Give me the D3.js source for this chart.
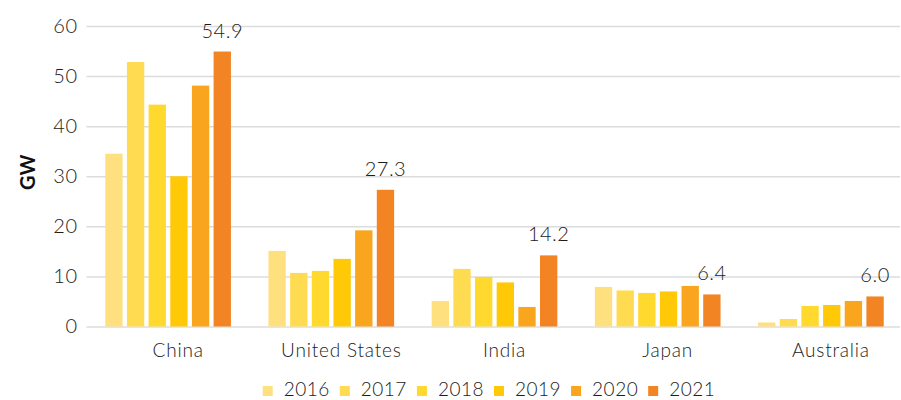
<!DOCTYPE html>
<html>
<head>
<meta charset="utf-8">
<script src="https://cdn.jsdelivr.net/npm/d3@7"></script>
<style>
  html, body { margin: 0; padding: 0; background: #fff; }
  svg { display: block; font-family: "Lato", "Open Sans", sans-serif; }
</style>
</head>
<body>
<svg id="chart" width="901" height="400"></svg>
<script>
const countries = ["China", "United States", "India", "Japan", "Australia"];
const years = ["2016", "2017", "2018", "2019", "2020", "2021"];
const v2016 = [34.5, 15.1, 5.1, 7.9, 0.8];
const v2017 = [52.8, 10.7, 11.5, 7.2, 1.5];
const v2018 = [44.3, 11.1, 9.9, 6.7, 4.1];
const v2019 = [30.0, 13.5, 8.8, 7.0, 4.3];
const v2020 = [48.1, 19.2, 3.9, 8.1, 5.1];
const v2021 = [54.9, 27.3, 14.2, 6.4, 6.0];
const yTicks = [0, 10, 20, 30, 40, 50, 60];
const colors = ["#FFE07F", "#FFDB52", "#FFD92E", "#FFC907", "#F9A51E", "#F28424"];
const labelledYear = "2021";

const series = [v2016, v2017, v2018, v2019, v2020, v2021];
const data = countries.map((c, i) => ({
  country: c,
  values: years.map((y, j) => ({ year: y, value: series[j][i] }))
}));

const svg = d3.select("#chart");
const mLeft = 86.5, mRight = 902.5, mTop = 26, mBottom = 326.5;
const textColor = "#1c1c1c";
const lightWeight = 300;

const x0 = d3.scaleBand().domain(countries).range([mLeft, mRight])
  .paddingInner(0.23).paddingOuter(0.115);
const x1 = d3.scaleBand().domain(years).range([0, x0.bandwidth()])
  .paddingInner(0.2).paddingOuter(0);
const y = d3.scaleLinear().domain([0, 60]).range([mBottom, mTop]);
const color = d3.scaleOrdinal().domain(years).range(colors);

// gridlines + y tick labels
const yAxis = svg.append("g")
  .attr("transform", `translate(${mLeft},0)`)
  .call(d3.axisLeft(y).tickValues(yTicks).tickSize(-(900 - mLeft)).tickPadding(9));
yAxis.select(".domain").remove();
yAxis.selectAll(".tick line").attr("stroke", "#dcdcdc").attr("stroke-width", 1.5);
yAxis.selectAll(".tick text")
  .attr("fill", textColor).style("font-size", "20px").style("font-weight", lightWeight)
  .style("letter-spacing", "0.5px").style("font-family", "Lato, sans-serif");

// y axis title
svg.append("text")
  .attr("transform", `translate(35,${(mTop + mBottom) / 2 - 4}) rotate(-90)`)
  .attr("text-anchor", "middle")
  .attr("fill", "#111")
  .style("font-size", "20px").style("font-weight", "bold")
  .text("GW");

// bars
const groups = svg.append("g").selectAll("g").data(data).join("g")
  .attr("transform", d => `translate(${x0(d.country)},0)`);
groups.selectAll("rect").data(d => d.values).join("rect")
  .attr("x", d => x1(d.year))
  .attr("width", x1.bandwidth())
  .attr("y", d => y(d.value))
  .attr("height", d => y(0) - y(d.value))
  .attr("fill", d => color(d.year));

// value labels for 2021
groups.selectAll("text.val").data(d => d.values.filter(v => v.year === labelledYear)).join("text")
  .attr("class", "val")
  .attr("x", d => x1(d.year) + x1.bandwidth() / 2)
  .attr("y", d => y(d.value) - 14)
  .attr("text-anchor", "middle")
  .attr("fill", textColor)
  .style("font-size", "20px").style("font-weight", lightWeight)
  .style("letter-spacing", "0.5px")
  .text(d => d.value.toFixed(1));

// category axis
const xAxis = svg.append("g")
  .attr("transform", `translate(0,${mBottom})`)
  .call(d3.axisBottom(x0).tickSize(0).tickPadding(17));
xAxis.select(".domain").remove();
xAxis.selectAll(".tick text")
  .attr("dx", 10)
  .attr("fill", textColor).style("font-size", "19px").style("font-weight", lightWeight)
  .style("letter-spacing", "0.8px").style("font-family", "Lato, sans-serif");

// legend
const legend = svg.append("g");
const items = legend.selectAll("g").data(years).join("g");
items.append("rect").attr("width", 10).attr("height", 10).attr("y", -10).attr("fill", d => color(d));
items.append("text").attr("x", 21).attr("y", 0)
  .attr("fill", textColor).style("font-size", "19px").style("font-weight", lightWeight)
  .style("letter-spacing", "0.5px").text(d => d);
let cx = 0;
items.each(function() {
  const g = d3.select(this);
  g.attr("transform", `translate(${cx},0)`);
  cx += 21 + g.select("text").node().getComputedTextLength() + 10;
});
const total = cx - 10;
legend.attr("transform", `translate(${489 - total / 2},396)`);
</script>
</body>
</html>
